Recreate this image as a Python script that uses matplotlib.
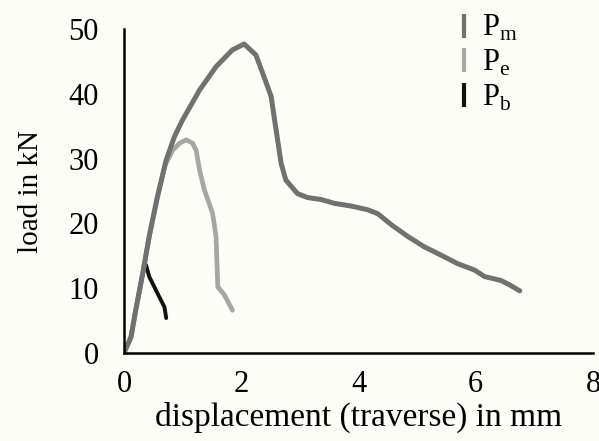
import matplotlib
matplotlib.use("Agg")
import matplotlib.pyplot as plt
from matplotlib.lines import Line2D

# load-displacement curves
pm_disp = [0.0, 0.12, 0.2, 0.32, 0.43, 0.57, 0.72, 0.86, 1.0, 1.29, 1.57, 1.85, 2.05, 2.25,
           2.39, 2.51, 2.56, 2.62, 2.68, 2.76, 2.96, 3.13, 3.36, 3.59, 3.87, 4.16, 4.33,
           4.56, 4.84, 5.12, 5.41, 5.69, 5.98, 6.15, 6.43, 6.58, 6.75]
pm_load = [0.0, 2.5, 6.6, 12.3, 18.0, 24.1, 29.8, 33.4, 36.0, 40.6, 44.2, 46.8, 47.7, 46.0,
           42.6, 39.6, 36.5, 32.9, 29.3, 26.7, 24.6, 24.0, 23.7, 23.1, 22.7, 22.1, 21.5,
           19.8, 18.0, 16.4, 15.1, 13.8, 12.8, 11.8, 11.2, 10.5, 9.6]

pe_disp = [0.0, 0.12, 0.2, 0.32, 0.43, 0.57, 0.7, 0.83, 0.95, 1.06, 1.17, 1.23, 1.29, 1.37,
           1.51, 1.57, 1.60, 1.71, 1.85]
pe_load = [0.0, 2.5, 6.6, 12.3, 18.0, 24.1, 29.0, 31.3, 32.4, 32.9, 32.4, 31.3, 28.2, 25.2,
           21.6, 18.0, 10.2, 9.0, 6.6]

pb_disp = [0.0, 0.12, 0.2, 0.32, 0.375, 0.43, 0.6, 0.69, 0.72]
pb_load = [0.0, 2.5, 6.6, 12.3, 13.6, 11.8, 8.7, 7.1, 5.4]

labels = ["P$_\\mathrm{m}$", "P$_\\mathrm{e}$", "P$_\\mathrm{b}$"]
colors = ["#717171", "#a6a6a6", "#111111"]

plt.rcParams["font.family"] = "Liberation Serif"
plt.rcParams["mathtext.fontset"] = "custom"
plt.rcParams["mathtext.rm"] = "Liberation Serif"

bg = "#fdfdf8"
fig = plt.figure(figsize=(5.99, 4.41), dpi=100, facecolor=bg)
ax = fig.add_axes([0.207, 0.1995, 0.783, 0.7345], facecolor=bg)

# black first so the grey curves run over it near the origin
ax.plot(pb_disp, pb_load, color=colors[2], lw=2.8, solid_capstyle="round")
ax.plot(pe_disp, pe_load, color=colors[1], lw=3.4, solid_capstyle="round")
ax.plot(pm_disp, pm_load, color=colors[0], lw=3.6, solid_capstyle="round")

ax.set_xlim(0, 8)
ax.set_ylim(0, 50)
ax.set_xticks([0, 2, 4, 6, 8])
ax.set_yticks([0, 10, 20, 30, 40, 50])
ax.tick_params(length=0, labelsize=22)
ax.tick_params(axis="y", pad=18)
ax.tick_params(axis="x", pad=12)
for s in ["top", "right"]:
    ax.spines[s].set_visible(False)
for s in ["left", "bottom"]:
    ax.spines[s].set_linewidth(1.8)
ax.set_xlabel("displacement (traverse) in mm", fontsize=24, labelpad=2)
ax.set_ylabel("load in kN", fontsize=21, labelpad=18)

handles = [Line2D([], [], color=c, marker="|", linestyle="none", markersize=17,
                  markeredgewidth=3) for c in colors]
ax.legend(handles, labels, loc="upper left", bbox_to_anchor=(0.66, 1.115), frameon=False,
          fontsize=22, handlelength=0.6, handletextpad=0.3, labelspacing=0.15,
          borderpad=0.2)

fig.savefig("out.png", dpi=100, facecolor=bg)
